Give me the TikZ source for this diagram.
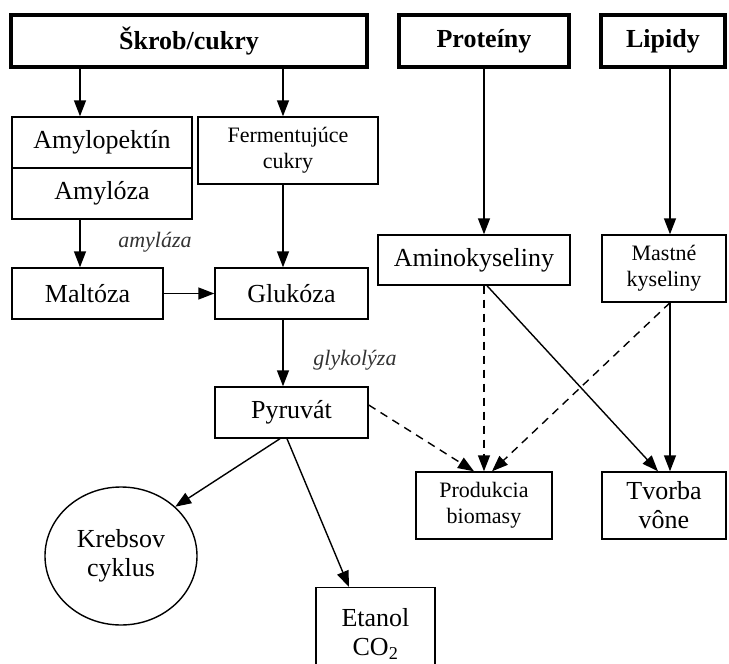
\documentclass[tikz,border=0pt]{standalone}
\usepackage{fontspec}
\setmainfont{Liberation Serif}
\usetikzlibrary{arrows.meta,shapes.geometric}
\begin{document}
\begin{tikzpicture}[x=1pt,y=-1pt,
  box/.style={draw, line width=1.4pt, inner sep=0pt, align=center, font=\fontsize{26}{29}\selectfont},
  smallbox/.style={box, font=\fontsize{22}{26}\selectfont},
  topbox/.style={draw, line width=4pt, inner sep=0pt, font=\fontsize{26}{28}\selectfont\bfseries},
  arr/.style={line width=1.4pt, -{Triangle[length=16pt,width=12pt]}},
  darr/.style={arr, dash pattern=on 8pt off 6pt},
  lbl/.style={font=\fontsize{22}{24}\selectfont\itshape, text=black!80}]
\useasboundingbox (0,0) rectangle (729,664);
% top boxes
\node[topbox, minimum width=356pt, minimum height=52pt] (skrob) at (189,41) {Škrob/cukry};
\node[topbox, minimum width=170pt, minimum height=52pt] (prot) at (484,41) {Proteíny};
\node[topbox, minimum width=124pt, minimum height=52pt] (lip) at (663,41) {Lipidy};
% column coordinates
\coordinate (xA) at (80,0);
\coordinate (xB) at (283,0);
\coordinate (xP) at (484,0);
\coordinate (xL) at (670,0);
% boxes
\node[box, minimum width=180pt, minimum height=51pt] (amylop) at (102,142.5) {Amylopektín};
\node[box, minimum width=180pt, minimum height=51pt] (amyloz) at (102,193.5) {Amylóza};
\node[smallbox, minimum width=180pt, minimum height=67pt] (ferm) at (288,150.5) {Fermentujúce\\cukry};
\node[box, minimum width=151pt, minimum height=51pt] (malt) at (87.5,293.5) {Maltóza};
\node[box, minimum width=153pt, minimum height=51pt] (gluk) at (291.5,293.5) {Glukóza};
\node[box, minimum width=153pt, minimum height=51pt] (pyr) at (291.5,412.5) {Pyruvát};
\node[box, minimum width=192pt, minimum height=50pt] (amino) at (474,260) {Aminokyseliny};
\node[smallbox, minimum width=124pt, minimum height=67pt] (mast) at (664,268.5) {Mastné\\kyseliny};
\node[smallbox, minimum width=136pt, minimum height=67pt] (prod) at (484,505.5) {Produkcia\\biomasy};
\node[box, minimum width=124pt, minimum height=67pt] (tvor) at (664,505.5) {Tvorba\\vône};
\node[box, ellipse, minimum width=152pt, minimum height=138pt] (krebs) at (121,556) {Krebsov\\cyklus};
\node[box, minimum width=119pt, minimum height=92pt, anchor=north] (etan) at (375.5,587) {Etanol\\CO\textsubscript{2}};
% labels
\node[lbl] (amylaza) at (155,242) {amyláza};
\node[lbl] (glyk) at (355,360) {glykolýza};
% helper coordinates for arrow ends
\coordinate (pA) at (474,0);
\coordinate (pC) at (492,0);
\coordinate (tA) at (658,0);
\coordinate (aS) at (487,0);
\coordinate (eT) at (349,0);
\coordinate (pyrE) at (0,405);
\coordinate (pyrK) at (280,0);
\coordinate (pyrT) at (287,0);
% connectors
\draw[arr] (skrob.south -| xA) -- (amylop.north -| xA);
\draw[arr] (skrob.south -| xB) -- (ferm.north -| xB);
\draw[arr] (amyloz.south -| xA) -- (malt.north -| xA);
\draw[arr] (ferm.south -| xB) -- (gluk.north -| xB);
\draw[arr] (malt.east) -- (gluk.west);
\draw[arr] (gluk.south -| xB) -- (pyr.north -| xB);
\draw[arr] (prot.south -| xP) -- (amino.north -| xP);
\draw[arr] (lip.south -| xL) -- (mast.north -| xL);
\draw[darr] (amino.south -| xP) -- (prod.north -| xP);
\draw[arr] (amino.south -| aS) -- (tvor.north -| tA);
\draw[darr] (mast.south -| xL) -- (prod.north -| pC);
\draw[arr] (mast.south -| xL) -- (tvor.north -| xL);
\draw[darr] (pyr.east |- pyrE) -- (prod.north -| pA);
\draw[arr] (pyr.south -| pyrK) -- (krebs.north east);
\draw[arr] (pyr.south -| pyrT) -- (etan.north -| eT);
\end{tikzpicture}
\end{document}
